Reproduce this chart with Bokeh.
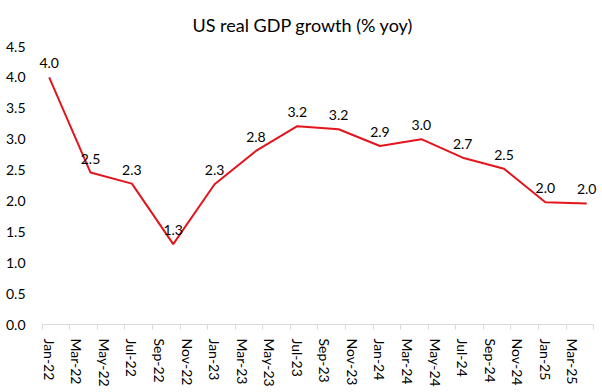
import pandas as pd
from bokeh.plotting import figure
from bokeh.models import Range1d, FixedTicker, ColumnDataSource, LabelSet
from bokeh.core.properties import value
from bokeh.embed import file_html
from bokeh.resources import INLINE

# ---- data ----
quarters = ["Jan-22", "Apr-22", "Jul-22", "Oct-22", "Jan-23", "Apr-23", "Jul-23",
            "Oct-23", "Jan-24", "Apr-24", "Jul-24", "Oct-24", "Jan-25", "Apr-25"]
growth = [4.0, 2.46, 2.28, 1.30, 2.27, 2.81, 3.21, 3.16, 2.89, 3.0, 2.70, 2.52, 1.98, 1.96]
tick_labels = ["Jan-22", "Mar-22", "May-22", "Jul-22", "Sep-22", "Nov-22",
               "Jan-23", "Mar-23", "May-23", "Jul-23", "Sep-23", "Nov-23",
               "Jan-24", "Mar-24", "May-24", "Jul-24", "Sep-24", "Nov-24",
               "Jan-25", "Mar-25"]
y_ticks = [0.0, 0.5, 1.0, 1.5, 2.0, 2.5, 3.0, 3.5, 4.0, 4.5]
title = "US real GDP growth (% yoy)"


def month_index(s):
    d = pd.to_datetime(s, format="%b-%y")
    return (d.year - 2022) * 12 + d.month - 1


xq = [month_index(q) for q in quarters]
xt = [month_index(t) for t in tick_labels]
n_months = month_index(quarters[-1]) + 1

FONT = "Lato"

# frame is a bit wider than the axis so that edge data labels are not clipped
p = figure(width=600, height=390, output_backend="svg", toolbar_location=None,
           x_range=Range1d(-1.5, n_months), y_range=Range1d(0, 4.5),
           min_border_left=28, min_border_right=0, min_border_top=44,
           min_border_bottom=66)

p.title.text = title
p.title.align = "left"
p.title.text_font = FONT
p.title.text_font_size = "18px"
p.title.text_font_style = "normal"
p.title.text_color = "#000000"
p.title.offset = 164
p.title.standoff = 22

p.outline_line_color = None
p.xgrid.visible = False
p.ygrid.visible = False
p.background_fill_color = "white"
p.border_fill_color = "white"

# x axis
xa = p.xaxis[0]
xa.bounds = (-0.5, n_months - 0.5)
xa.ticker = FixedTicker(ticks=xt, minor_ticks=[v - 0.5 for v in xt] + [n_months - 0.5])
xa.major_label_overrides = {v: t for v, t in zip(xt, tick_labels)}
xa.major_label_orientation = -1.5707963
xa.major_tick_line_color = None
xa.major_tick_out = 0
xa.major_tick_in = 0
xa.minor_tick_line_color = "#d9d9d9"
xa.minor_tick_out = 5
xa.minor_tick_in = 0
xa.axis_line_color = "#d9d9d9"
xa.axis_line_width = 1
xa.major_label_standoff = 9
xa.major_label_text_font = FONT
xa.major_label_text_font_size = "14px"
xa.major_label_text_color = "#000000"

# y axis
ya = p.yaxis[0]
ya.ticker = FixedTicker(ticks=y_ticks)
ya.major_label_overrides = {v: f"{v:.1f}" for v in y_ticks}
ya.axis_line_color = None
ya.major_tick_line_color = None
ya.minor_tick_line_color = None
ya.major_tick_out = 0
ya.major_tick_in = 0
ya.major_label_standoff = 3
ya.major_label_text_font = FONT
ya.major_label_text_font_size = "14px"
ya.major_label_text_color = "#000000"

src = ColumnDataSource(dict(x=xq, y=growth, lab=[f"{g:.1f}" for g in growth]))
p.line("x", "y", source=src, line_color="#e3151c", line_width=2)
labels = LabelSet(x="x", y="y", text="lab", source=src, text_align="center",
                  text_baseline="middle", y_offset=14, text_font=value(FONT),
                  text_font_size=value("14px"), text_color=value("#000000"))
p.add_layout(labels)

open("out.html", "w").write(file_html(p, INLINE))
